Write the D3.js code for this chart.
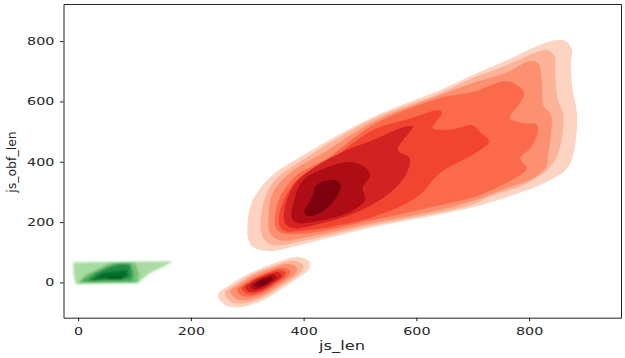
<!DOCTYPE html>
<html>
<head>
<meta charset="utf-8">
<script src="https://cdn.jsdelivr.net/npm/d3@7"></script>
<style>
html, body { margin: 0; padding: 0; background: #fff; }
svg { display: block; }
text { font-family: "DejaVu Sans", sans-serif; fill: #262626; }
</style>
</head>
<body>
<div class="svg-container"></div>
<script>
var xTicks = [0, 200, 400, 600, 800];
var yTicks = [0, 200, 400, 600, 800];
var xLabel = "js_len";
var yLabel = "js_obf_len";

var redColors = ["#fdd4c2", "#fcb499", "#fc9070", "#fb6b4b", "#f14432", "#d32020", "#ae1117", "#7b0510"];
var greenColors = ["#a9dca3", "#74c476", "#41ab5d", "#238b45", "#006d2c", "#00491d"];

// kde contours, [js_len, js_obf_len], outermost first
var mainContours = [
    [[301,150],[310,117],[340,104],[406,130],[523,183],[642,226],[700,249],[761,283],[837,339],[869,382],[881,449],[885,561],[878,628],[874,728],[876,770],[867,797],[849,804],[819,787],[761,737],[700,688],[642,638],[523,548],[406,429],[345,356],[317,296],[305,250]],
    [[324,197],[328,147],[344,124],[406,140],[523,190],[642,232],[700,258],[730,285],[789,322],[837,382],[855,449],[860,561],[851,605],[846,704],[846,747],[834,770],[819,767],[761,721],[700,678],[642,628],[523,542],[406,416],[349,339],[331,280]],
    [[802,734],[816,727],[823,661],[825,588],[839,555],[839,495],[833,416],[830,382],[807,345],[761,312],[700,270],[642,240],[523,197],[406,150],[358,140],[340,164],[338,230],[345,296],[375,362],[434,429],[523,532],[642,621],[700,661],[761,697]],
    [[757,667],[779,654],[791,628],[784,595],[766,545],[789,528],[814,522],[814,489],[802,445],[784,412],[796,379],[784,356],[713,290],[642,256],[523,207],[406,163],[361,164],[350,183],[350,230],[358,283],[388,356],[442,412],[523,522],[642,611],[700,631]],
    [[642,571],[645,561],[629,512],[665,508],[700,521],[713,498],[729,468],[708,432],[642,363],[601,283],[523,217],[406,173],[363,173],[356,200],[361,256],[388,339],[442,399],[523,505],[583,540]],
    [[594,515],[588,499],[567,439],[588,412],[585,372],[571,329],[541,280],[494,233],[434,197],[381,180],[367,197],[367,250],[385,329],[417,379],[465,429],[523,472],[583,518]],
    [[482,399],[509,382],[518,356],[505,313],[509,273],[482,233],[434,207],[390,197],[379,213],[385,283],[399,339],[442,382]],
    [[443,339],[461,336],[466,316],[452,266],[429,230],[408,220],[401,233],[415,283],[423,323]]
];

var smallContours = [
    [[248,-42],[261,-75],[287,-82],[328,-59],[376,-2],[408,41],[411,67],[390,84],[353,67],[305,31],[269,-9]],
    [[260,-36],[271,-64],[293,-70],[328,-50],[369,-2],[396,35],[399,57],[381,72],[349,57],[308,27],[278,-8]],
    [[270,-30],[280,-54],[298,-59],[328,-42],[363,-1],[386,30],[388,49],[373,61],[346,49],[311,23],[286,-6]],
    [[282,-24],[289,-43],[304,-47],[328,-34],[356,-1],[374,24],[376,39],[364,49],[343,39],[315,18],[294,-5]],
    [[290,-20],[296,-35],[308,-39],[328,-28],[351,0],[366,20],[368,33],[358,41],[340,33],[317,15],[300,-4]],
    [[296,-16],[301,-29],[312,-32],[328,-23],[347,0],[360,17],[361,27],[353,34],[338,27],[319,13],[304,-3]],
    [[305,-11],[309,-21],[316,-23],[328,-16],[342,0],[351,13],[352,20],[346,25],[335,20],[321,10],[311,-2]],
    [[312,-8],[315,-14],[320,-16],[328,-11],[338,0],[344,9],[345,14],[340,18],[333,14],[323,7],[316,-1]]
];

var greenContours = [
    [[-9,67],[168,70],[154,54],[127,31],[106,-2],[-4,-6],[-8,24]],
    [[56,64],[101,67],[108,31],[106,-2],[0,-2],[12,24],[38,47]],
    [[69,64],[92,64],[99,31],[97,4],[3,1],[26,31],[51,51]],
    [[79,61],[92,57],[94,18],[86,11],[17,4],[33,31],[56,51]],
    [[44,31],[86,41],[88,18],[21,8]],
    [[53,18],[79,18],[79,10],[53,10]]
];

var width = 625,
    height = 358;

var x = d3.scaleLinear().domain([-26, 963]).range([63.5, 621]);
var y = d3.scaleLinear().domain([-117, 923]).range([317.7, 4]);

var svg = d3.select(".svg-container").append("svg")
    .attr("width", width)
    .attr("height", height);

var defs = svg.append("defs");
defs.append("filter").attr("id", "soft")
    .append("feGaussianBlur").attr("stdDeviation", 0.5);
defs.append("filter").attr("id", "softer")
    .attr("x", "-10%").attr("y", "-20%").attr("width", "120%").attr("height", "140%")
    .append("feGaussianBlur").attr("stdDeviation", 1.3);
defs.append("filter").attr("id", "textsoft")
    .append("feGaussianBlur").attr("stdDeviation", 0.25);

var smooth = d3.line()
    .x(function(d) { return x(d[0]); })
    .y(function(d) { return y(d[1]); })
    .curve(d3.curveCatmullRomClosed.alpha(0.5));

var sharp = d3.line()
    .x(function(d) { return x(d[0]); })
    .y(function(d) { return y(d[1]); })
    .curve(d3.curveLinearClosed);

function drawContours(data, colors, line, filter) {
    svg.append("g")
        .attr("filter", "url(#" + filter + ")")
        .selectAll("path")
        .data(data)
        .enter().append("path")
        .attr("d", line)
        .attr("fill", function(d, i) { return colors[i]; });
}

drawContours(greenContours, greenColors, sharp, "softer");
drawContours(mainContours, redColors, smooth, "soft");
drawContours(smallContours, redColors, smooth, "soft");

// axes, the picture is stretched sideways so the text is too
var xAxis = svg.append("g")
    .attr("transform", "translate(0," + y.range()[0] + ")")
    .call(d3.axisBottom(x).tickValues(xTicks).tickSize(3.5).tickPadding(5).tickSizeOuter(0));

var yAxis = svg.append("g")
    .attr("transform", "translate(" + x.range()[0] + ",0)")
    .call(d3.axisLeft(y).tickValues(yTicks).tickSize(3.5).tickPadding(5).tickSizeOuter(0));

svg.append("g")
    .attr("transform", "translate(0," + y.range()[1] + ")")
    .call(d3.axisTop(x).tickValues([]).tickSizeOuter(0));

svg.append("g")
    .attr("transform", "translate(" + x.range()[1] + ",0)")
    .call(d3.axisRight(y).tickValues([]).tickSizeOuter(0));

svg.selectAll(".domain").attr("stroke", "#222").attr("stroke-width", 1);
svg.selectAll(".tick line").attr("stroke", "#222");

xAxis.selectAll("text")
    .style("font-size", "11px")
    .attr("y", 10)
    .attr("transform", "scale(1.3,1)");

yAxis.selectAll("text")
    .style("font-size", "11px")
    .attr("x", -7)
    .attr("transform", "scale(1.3,1)");

svg.append("text")
    .attr("transform", "translate(342,350) scale(1.25,1)")
    .attr("text-anchor", "middle")
    .style("font-size", "13px")
    .text(xLabel);

svg.append("text")
    .attr("transform", "translate(16,162) rotate(-90)")
    .attr("text-anchor", "middle")
    .style("font-size", "12.5px")
    .text(yLabel);
</script>
</body>
</html>
